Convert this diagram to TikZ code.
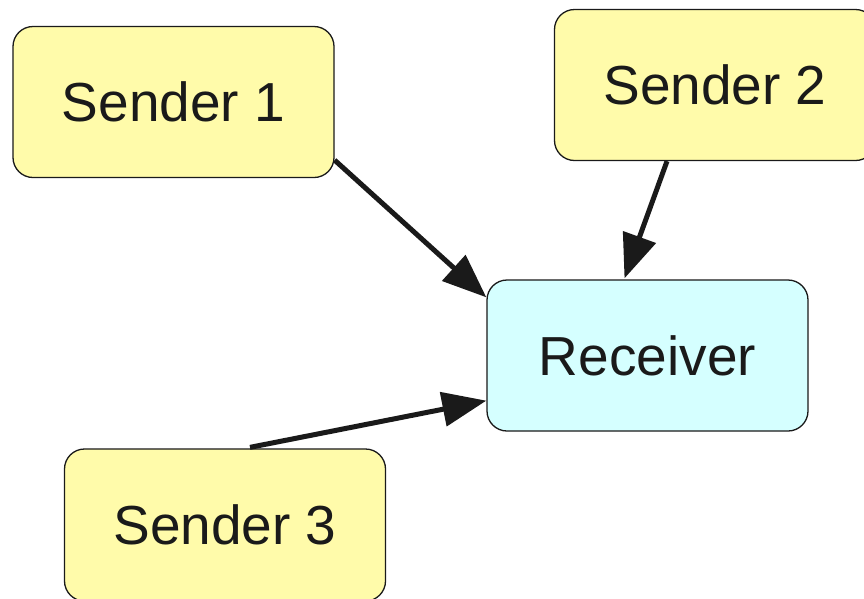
\documentclass[tikz,border=0pt]{standalone}
\usepackage{fontspec}
\setmainfont{Liberation Sans}
\usetikzlibrary{arrows.meta,calc}
\definecolor{sendfill}{HTML}{FFFBAA}
\definecolor{recvfill}{HTML}{D5FFFF}
\definecolor{ink}{HTML}{1A1A1A}
\begin{document}
\begin{tikzpicture}[x=1pt,y=-1pt,
  box/.style={draw=ink, line width=1.3pt, rounded corners=20pt, minimum width=321pt, minimum height=151pt, inner sep=0pt, text=ink, font=\fontsize{55}{60}\selectfont},
  sender/.style={box, fill=sendfill},
  receiver/.style={box, fill=recvfill},
  conn/.style={draw=ink, line width=5pt, -{Triangle[length=44pt,width=34pt]}}]
\clip (0,0) rectangle (864,598);
\useasboundingbox (0,0) rectangle (864,598);
\fill[white] (0,0) rectangle (864,598);
\node[sender] (s1) at (173.5,102) {Sender 1};
\node[sender] (s2) at (715,85) {Sender 2};
\node[receiver] (r) at (647.5,355.5) {Receiver};
\node[sender, minimum height=152pt] (s3) at (225,525) {Sender 3};
\draw[conn] ($(s1.south east)+(0,-18)$) -- ($(r.north west)+(0,18)$);
\draw[conn] ($(s2.south)+(-48,0)$) -- ($(r.north)+(-23,-1)$);
\draw[conn] ($(s3.north)+(25,-1)$) -- ($(r.south west)+(0,-31)$);
\end{tikzpicture}
\end{document}
